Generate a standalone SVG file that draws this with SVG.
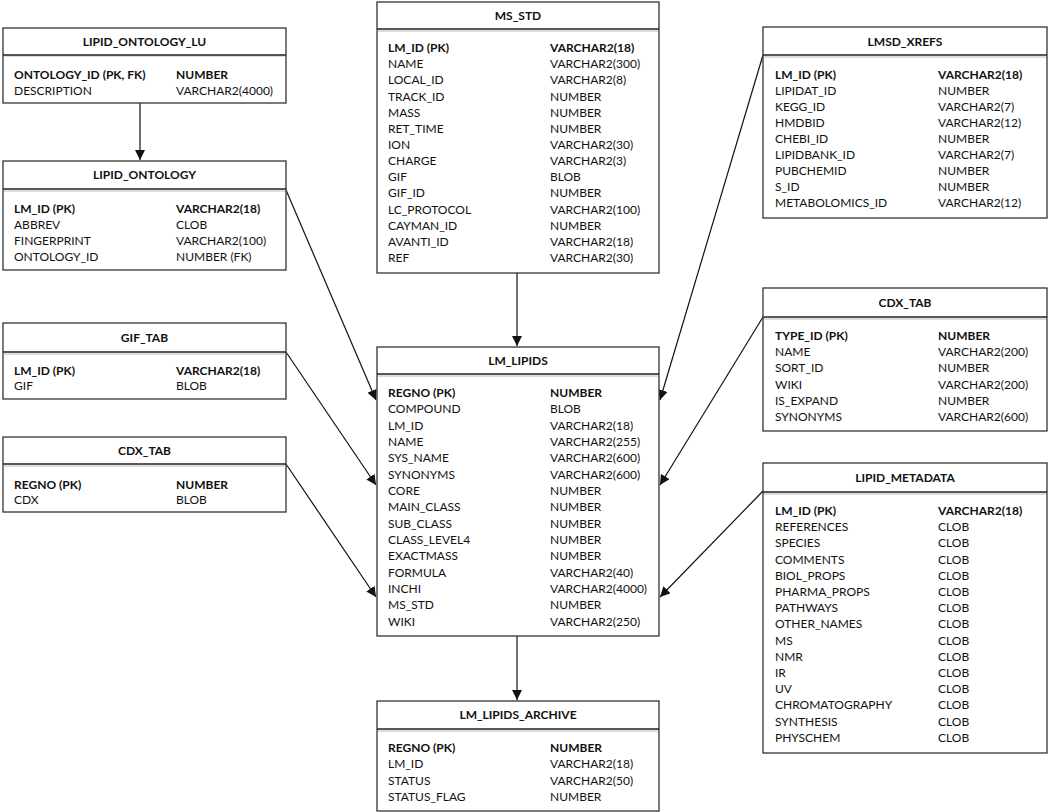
<svg xmlns="http://www.w3.org/2000/svg" width="1050" height="812" viewBox="0 0 1050 812">
<style>
.box{fill:#fff;stroke:#333;stroke-width:1.3}
.hl{stroke:#222;stroke-width:1.3}
.sh{stroke:#ddd;stroke-width:2}
text{font-family:Lato,"Open Sans",sans-serif;font-size:12px;fill:#111}
.t{font-weight:bold;text-anchor:middle}
.b{font-weight:bold}
.c{stroke:#111;stroke-width:1.2;fill:none;marker-end:url(#ah)}
</style>
<defs>
<marker id="ah" viewBox="0 0 10 10" refX="10" refY="5" markerWidth="10" markerHeight="10" markerUnits="userSpaceOnUse" orient="auto">
<path d="M0,0 L10,5 L0,10 z" fill="#111"/>
</marker>
</defs>
<rect width="1050" height="812" fill="#fff"/>

<g id="connectors">
<line class="c" x1="140" y1="103" x2="140" y2="160"/>
<line class="c" x1="517" y1="273" x2="517" y2="346"/>
<line class="c" x1="517" y1="636" x2="517" y2="700"/>
<line class="c" x1="286" y1="190" x2="376" y2="400"/>
<line class="c" x1="286" y1="352" x2="376" y2="485"/>
<line class="c" x1="286" y1="464" x2="376" y2="597"/>
<line class="c" x1="763" y1="55" x2="660" y2="400"/>
<line class="c" x1="763" y1="317" x2="660" y2="485"/>
<line class="c" x1="763" y1="491" x2="660" y2="597"/>
</g>

<g id="LIPID_ONTOLOGY_LU">
<rect class="box" x="3" y="28" width="283" height="75"/>
<line class="sh" x1="4" y1="56" x2="285" y2="56"/>
<line class="hl" x1="3" y1="55" x2="286" y2="55"/>
<text class="t" x="144.5" y="46">LIPID_ONTOLOGY_LU</text>
<text class="b" x="14" y="79">ONTOLOGY_ID (PK, FK)</text><text class="b" x="176" y="79">NUMBER</text>
<text x="14" y="95">DESCRIPTION</text><text x="176" y="95">VARCHAR2(4000)</text>
</g>

<g id="LIPID_ONTOLOGY">
<rect class="box" x="3" y="161" width="283" height="109"/>
<line class="sh" x1="4" y1="191" x2="285" y2="191"/>
<line class="hl" x1="3" y1="189" x2="286" y2="189"/>
<text class="t" x="144.5" y="179">LIPID_ONTOLOGY</text>
<text class="b" x="14" y="213">LM_ID (PK)</text><text class="b" x="176" y="213">VARCHAR2(18)</text>
<text x="14" y="229">ABBREV</text><text x="176" y="229">CLOB</text>
<text x="14" y="245">FINGERPRINT</text><text x="176" y="245">VARCHAR2(100)</text>
<text x="14" y="261">ONTOLOGY_ID</text><text x="176" y="261">NUMBER (FK)</text>
</g>

<g id="GIF_TAB">
<rect class="box" x="3" y="323" width="283" height="76"/>
<line class="sh" x1="4" y1="354" x2="285" y2="354"/>
<line class="hl" x1="3" y1="352" x2="286" y2="352"/>
<text class="t" x="144.5" y="342">GIF_TAB</text>
<text class="b" x="14" y="375">LM_ID (PK)</text><text class="b" x="176" y="375">VARCHAR2(18)</text>
<text x="14" y="390">GIF</text><text x="176" y="390">BLOB</text>
</g>

<g id="CDX_TAB_LEFT">
<rect class="box" x="3" y="437" width="283" height="75"/>
<line class="sh" x1="4" y1="466" x2="285" y2="466"/>
<line class="hl" x1="3" y1="464" x2="286" y2="464"/>
<text class="t" x="144.5" y="455">CDX_TAB</text>
<text class="b" x="14" y="489">REGNO (PK)</text><text class="b" x="176" y="489">NUMBER</text>
<text x="14" y="504">CDX</text><text x="176" y="504">BLOB</text>
</g>

<g id="MS_STD">
<rect class="box" x="377" y="2" width="282" height="271"/>
<line class="sh" x1="378" y1="31" x2="658" y2="31"/>
<line class="hl" x1="377" y1="29" x2="659" y2="29"/>
<text class="t" x="518" y="20">MS_STD</text>
<text class="b" x="388" y="52">LM_ID (PK)</text><text class="b" x="550" y="52">VARCHAR2(18)</text>
<text x="388" y="68.2">NAME</text><text x="550" y="68.2">VARCHAR2(300)</text>
<text x="388" y="84.3">LOCAL_ID</text><text x="550" y="84.3">VARCHAR2(8)</text>
<text x="388" y="100.5">TRACK_ID</text><text x="550" y="100.5">NUMBER</text>
<text x="388" y="116.6">MASS</text><text x="550" y="116.6">NUMBER</text>
<text x="388" y="132.8">RET_TIME</text><text x="550" y="132.8">NUMBER</text>
<text x="388" y="148.9">ION</text><text x="550" y="148.9">VARCHAR2(30)</text>
<text x="388" y="165.1">CHARGE</text><text x="550" y="165.1">VARCHAR2(3)</text>
<text x="388" y="181.2">GIF</text><text x="550" y="181.2">BLOB</text>
<text x="388" y="197.4">GIF_ID</text><text x="550" y="197.4">NUMBER</text>
<text x="388" y="213.5">LC_PROTOCOL</text><text x="550" y="213.5">VARCHAR2(100)</text>
<text x="388" y="229.7">CAYMAN_ID</text><text x="550" y="229.7">NUMBER</text>
<text x="388" y="245.8">AVANTI_ID</text><text x="550" y="245.8">VARCHAR2(18)</text>
<text x="388" y="262">REF</text><text x="550" y="262">VARCHAR2(30)</text>
</g>

<g id="LMSD_XREFS">
<rect class="box" x="763" y="27" width="284" height="191"/>
<line class="sh" x1="764" y1="57" x2="1046" y2="57"/>
<line class="hl" x1="763" y1="55" x2="1047" y2="55"/>
<text class="t" x="905" y="46">LMSD_XREFS</text>
<text class="b" x="775" y="79">LM_ID (PK)</text><text class="b" x="938" y="79">VARCHAR2(18)</text>
<text x="775" y="95">LIPIDAT_ID</text><text x="938" y="95">NUMBER</text>
<text x="775" y="111">KEGG_ID</text><text x="938" y="111">VARCHAR2(7)</text>
<text x="775" y="127">HMDBID</text><text x="938" y="127">VARCHAR2(12)</text>
<text x="775" y="143">CHEBI_ID</text><text x="938" y="143">NUMBER</text>
<text x="775" y="159">LIPIDBANK_ID</text><text x="938" y="159">VARCHAR2(7)</text>
<text x="775" y="175">PUBCHEMID</text><text x="938" y="175">NUMBER</text>
<text x="775" y="191">S_ID</text><text x="938" y="191">NUMBER</text>
<text x="775" y="207">METABOLOMICS_ID</text><text x="938" y="207">VARCHAR2(12)</text>
</g>

<g id="CDX_TAB_RIGHT">
<rect class="box" x="763" y="288" width="284" height="143"/>
<line class="sh" x1="764" y1="319" x2="1046" y2="319"/>
<line class="hl" x1="763" y1="317" x2="1047" y2="317"/>
<text class="t" x="905" y="307">CDX_TAB</text>
<text class="b" x="775" y="340">TYPE_ID (PK)</text><text class="b" x="938" y="340">NUMBER</text>
<text x="775" y="356.2">NAME</text><text x="938" y="356.2">VARCHAR2(200)</text>
<text x="775" y="372.4">SORT_ID</text><text x="938" y="372.4">NUMBER</text>
<text x="775" y="388.6">WIKI</text><text x="938" y="388.6">VARCHAR2(200)</text>
<text x="775" y="404.8">IS_EXPAND</text><text x="938" y="404.8">NUMBER</text>
<text x="775" y="421">SYNONYMS</text><text x="938" y="421">VARCHAR2(600)</text>
</g>

<g id="LIPID_METADATA">
<rect class="box" x="763" y="463" width="284" height="290"/>
<line class="sh" x1="764" y1="494" x2="1046" y2="494"/>
<line class="hl" x1="763" y1="492" x2="1047" y2="492"/>
<text class="t" x="905" y="482">LIPID_METADATA</text>
<text class="b" x="775" y="515">LM_ID (PK)</text><text class="b" x="938" y="515">VARCHAR2(18)</text>
<text x="775" y="531.2">REFERENCES</text><text x="938" y="531.2">CLOB</text>
<text x="775" y="547.4">SPECIES</text><text x="938" y="547.4">CLOB</text>
<text x="775" y="563.6">COMMENTS</text><text x="938" y="563.6">CLOB</text>
<text x="775" y="579.8">BIOL_PROPS</text><text x="938" y="579.8">CLOB</text>
<text x="775" y="596">PHARMA_PROPS</text><text x="938" y="596">CLOB</text>
<text x="775" y="612.2">PATHWAYS</text><text x="938" y="612.2">CLOB</text>
<text x="775" y="628.4">OTHER_NAMES</text><text x="938" y="628.4">CLOB</text>
<text x="775" y="644.6">MS</text><text x="938" y="644.6">CLOB</text>
<text x="775" y="660.8">NMR</text><text x="938" y="660.8">CLOB</text>
<text x="775" y="677">IR</text><text x="938" y="677">CLOB</text>
<text x="775" y="693.2">UV</text><text x="938" y="693.2">CLOB</text>
<text x="775" y="709.4">CHROMATOGRAPHY</text><text x="938" y="709.4">CLOB</text>
<text x="775" y="725.6">SYNTHESIS</text><text x="938" y="725.6">CLOB</text>
<text x="775" y="741.8">PHYSCHEM</text><text x="938" y="741.8">CLOB</text>
</g>

<g id="LM_LIPIDS">
<rect class="box" x="377" y="347" width="282" height="289"/>
<line class="sh" x1="378" y1="376" x2="658" y2="376"/>
<line class="hl" x1="377" y1="374" x2="659" y2="374"/>
<text class="t" x="518" y="365">LM_LIPIDS</text>
<text class="b" x="388" y="397">REGNO (PK)</text><text class="b" x="550" y="397">NUMBER</text>
<text x="388" y="413.3">COMPOUND</text><text x="550" y="413.3">BLOB</text>
<text x="388" y="429.7">LM_ID</text><text x="550" y="429.7">VARCHAR2(18)</text>
<text x="388" y="446">NAME</text><text x="550" y="446">VARCHAR2(255)</text>
<text x="388" y="462.3">SYS_NAME</text><text x="550" y="462.3">VARCHAR2(600)</text>
<text x="388" y="478.6">SYNONYMS</text><text x="550" y="478.6">VARCHAR2(600)</text>
<text x="388" y="495">CORE</text><text x="550" y="495">NUMBER</text>
<text x="388" y="511.3">MAIN_CLASS</text><text x="550" y="511.3">NUMBER</text>
<text x="388" y="527.6">SUB_CLASS</text><text x="550" y="527.6">NUMBER</text>
<text x="388" y="544">CLASS_LEVEL4</text><text x="550" y="544">NUMBER</text>
<text x="388" y="560.3">EXACTMASS</text><text x="550" y="560.3">NUMBER</text>
<text x="388" y="576.6">FORMULA</text><text x="550" y="576.6">VARCHAR2(40)</text>
<text x="388" y="593">INCHI</text><text x="550" y="593">VARCHAR2(4000)</text>
<text x="388" y="609.3">MS_STD</text><text x="550" y="609.3">NUMBER</text>
<text x="388" y="625.6">WIKI</text><text x="550" y="625.6">VARCHAR2(250)</text>
</g>

<g id="LM_LIPIDS_ARCHIVE">
<rect class="box" x="377" y="701" width="282" height="110"/>
<line class="sh" x1="378" y1="731" x2="658" y2="731"/>
<line class="hl" x1="377" y1="729" x2="659" y2="729"/>
<text class="t" x="518" y="719">LM_LIPIDS_ARCHIVE</text>
<text class="b" x="388" y="752">REGNO (PK)</text><text class="b" x="550" y="752">NUMBER</text>
<text x="388" y="768.3">LM_ID</text><text x="550" y="768.3">VARCHAR2(18)</text>
<text x="388" y="784.6">STATUS</text><text x="550" y="784.6">VARCHAR2(50)</text>
<text x="388" y="801">STATUS_FLAG</text><text x="550" y="801">NUMBER</text>
</g>
</svg>
